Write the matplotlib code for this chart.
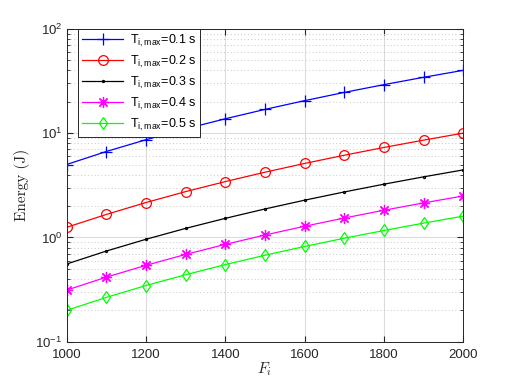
import numpy as np
import matplotlib
matplotlib.use('Agg')
import matplotlib.pyplot as plt
from matplotlib.ticker import LogLocator, NullFormatter, FixedLocator

# данные
F = [1000, 1100, 1200, 1300, 1400, 1500, 1600, 1700, 1800, 1900, 2000]
E_01 = [5.0, 6.66, 8.64, 10.99, 13.72, 16.88, 20.48, 24.57, 29.16, 34.30, 40.0]
E_02 = [1.25, 1.66, 2.16, 2.75, 3.43, 4.22, 5.12, 6.14, 7.29, 8.57, 10.0]
E_03 = [0.556, 0.740, 0.960, 1.221, 1.524, 1.875, 2.276, 2.730, 3.240, 3.811, 4.444]
E_04 = [0.3125, 0.416, 0.540, 0.687, 0.858, 1.055, 1.280, 1.535, 1.823, 2.143, 2.5]
E_05 = [0.2, 0.266, 0.346, 0.439, 0.549, 0.675, 0.819, 0.983, 1.166, 1.372, 1.6]
labels = ['0.1', '0.2', '0.3', '0.4', '0.5']
x_ticks = [1000, 1200, 1400, 1600, 1800, 2000]

plt.rcParams['font.family'] = ['Liberation Sans', 'DejaVu Sans']
plt.rcParams['mathtext.fontset'] = 'cm'
plt.rcParams['mathtext.rm'] = 'Liberation Sans'

fig = plt.figure(figsize=(5.12, 3.84), dpi=100)
ax = fig.add_axes([0.13, 0.11, 0.775, 0.815])

series = [E_01, E_02, E_03, E_04, E_05]
colors = [(0, 0, 1), (1, 0, 0), (0, 0, 0), (1, 0, 1), (0, 1, 0)]
markers = ['+', 'o', '.', (8, 2, 0), 'd']
msizes = [9, 7, 3, 8, 6]

for y, c, m, ms, lab in zip(series, colors, markers, msizes, labels):
    ax.semilogy(F, y, color=c, marker=m, markersize=ms, markerfacecolor='none',
                markeredgecolor=c, linewidth=0.9, markeredgewidth=0.9,
                label=r'T$_{\mathrm{i,max}}$=' + lab + ' s')

ax.set_xlim(1000, 2000)
ax.set_ylim(0.1, 100)
ax.xaxis.set_major_locator(FixedLocator(x_ticks))
ax.yaxis.set_major_locator(LogLocator(base=10, numticks=10))
ax.yaxis.set_minor_locator(LogLocator(base=10, subs=np.arange(2, 10), numticks=10))
ax.yaxis.set_minor_formatter(NullFormatter())

ax.grid(True, which='major', color='#dcdcdc', linewidth=0.8, linestyle='-')
ax.grid(True, which='minor', axis='y', color='#c8c8c8', linewidth=0.7, linestyle=(0, (1, 2.5)))
ax.set_axisbelow(True)

ax.tick_params(which='both', direction='in', top=True, right=True, colors='#262626',
               labelsize=9.5)
ax.tick_params(which='major', length=4)
ax.tick_params(which='minor', length=2.5)
ax.tick_params(axis='x', pad=5)
ax.tick_params(axis='y', pad=3)
for s in ax.spines.values():
    s.set_color('#262626')
    s.set_linewidth(0.7)

ax.set_xlabel(r'$F_i$', fontsize=11, color='#262626', labelpad=0)
ax.set_ylabel('Energy (J)', fontname='cmr10', fontsize=11, color='#262626', labelpad=4)

leg = ax.legend(loc='upper left', bbox_to_anchor=(0.03, 1.0), fontsize=9,
                fancybox=False, framealpha=1, edgecolor='#262626', borderpad=0.3,
                labelspacing=0.4, handlelength=3.3, handletextpad=0.5, borderaxespad=0)
leg.get_frame().set_linewidth(0.7)
for t in leg.get_texts():
    t.set_math_fontfamily('custom')

fig.savefig('out.png', dpi=100)
